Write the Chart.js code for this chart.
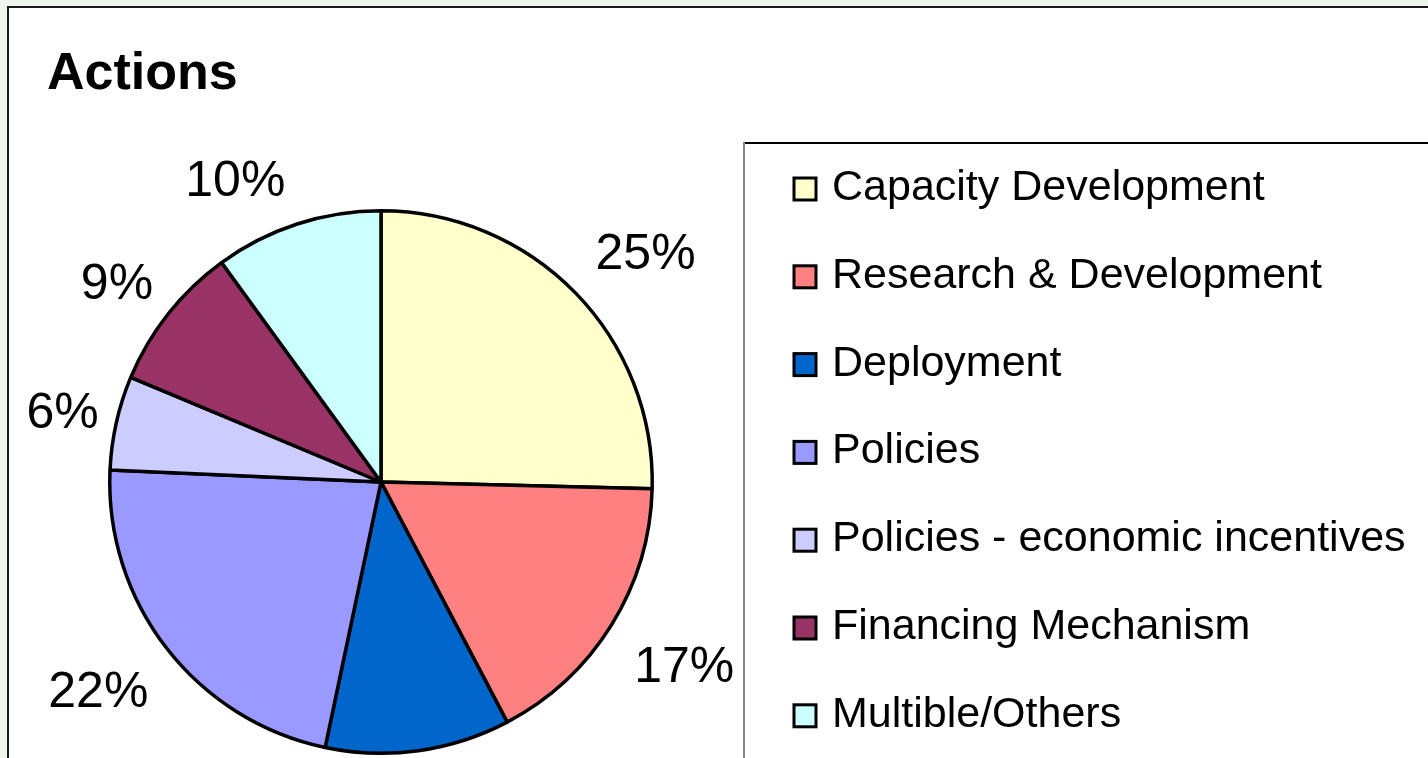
<!DOCTYPE html>
<html>
<head>
<meta charset="utf-8">
<script src="https://cdn.jsdelivr.net/npm/chart.js@4/dist/chart.umd.min.js"></script>
<style>
  html, body { margin: 0; padding: 0; }
  body { width: 1428px; height: 758px; overflow: hidden; background: #eff4ed; position: relative; }
  #frame { position: absolute; left: 7px; top: 6px; width: 1500px; height: 800px;
           background: #fff; border: 2px solid #1a1a1a; }
  #wrap { position: absolute; left: 0; top: 0; width: 1428px; height: 758px; }
</style>
</head>
<body>
<div id="frame"></div>
<div id="wrap"><canvas id="pie"></canvas></div>
<script>
const categories = ['Capacity Development', 'Research & Development', 'Deployment', 'Policies',
  'Policies - economic incentives', 'Financing Mechanism', 'Multible/Others'];
const shares = [25.4, 16.9, 11.0, 22.4, 5.6, 8.7, 10.0];
const sliceColors = ['#FFFFCC', '#FF8080', '#0066CC', '#9999FF', '#CCCCFF', '#993366', '#CCFFFF'];
const chartTitle = 'Actions';

const FONT = '"Liberation Sans", Arial, sans-serif';

const decorations = {
  id: 'decorations',
  afterDraw(chart) {
    const ctx = chart.ctx;
    const meta = chart.getDatasetMeta(0);
    const total = shares.reduce((a, b) => a + b, 0);
    // small hand nudges so the labels sit where the original best-fit put them
    const nudge = [[20, 10], [10, 2], [0, 0], [-11, -2], [6, 3], [-3, 8], [-45, 8]];
    ctx.save();

    // title
    ctx.fillStyle = '#000';
    ctx.font = 'bold 52px ' + FONT;
    ctx.textBaseline = 'alphabetic';
    ctx.textAlign = 'left';
    ctx.fillText(chartTitle, 47, 89);

    // legend box
    ctx.fillStyle = '#000';
    ctx.fillRect(744, 142, 700, 2);
    ctx.fillStyle = '#888';
    ctx.fillRect(743, 142, 2, 700);

    // legend entries
    ctx.font = '43px ' + FONT;
    categories.forEach((name, i) => {
      const base = 200 + i * 87.8;
      ctx.fillStyle = sliceColors[i];
      ctx.fillRect(794, base - 22, 22, 22);
      ctx.strokeStyle = '#000';
      ctx.lineWidth = 3;
      ctx.strokeRect(794, base - 22, 22, 22);
      ctx.fillStyle = '#000';
      ctx.fillText(name, 832, base);
    });

    // percentage labels outside the slices
    ctx.font = '50px ' + FONT;
    ctx.textAlign = 'center';
    ctx.textBaseline = 'middle';
    meta.data.forEach((arc, i) => {
      const mid = (arc.startAngle + arc.endAngle) / 2;
      const txt = Math.round(shares[i] / total * 100) + '%';
      const w = ctx.measureText(txt).width;
      const dx = Math.cos(mid), dy = Math.sin(mid);
      const dist = arc.outerRadius + 22 + (w / 2) * Math.abs(dx) + 18 * Math.abs(dy);
      ctx.fillText(txt, arc.x + dx * dist + nudge[i][0], arc.y + dy * dist + 2 + nudge[i][1]);
    });
    ctx.restore();
  }
};

new Chart(document.getElementById('pie'), {
  type: 'pie',
  data: {
    labels: categories,
    datasets: [{
      data: shares,
      backgroundColor: sliceColors,
      borderColor: '#000',
      borderWidth: 3.5
    }]
  },
  options: {
    responsive: true,
    maintainAspectRatio: false,
    animation: false,
    events: [],
    layout: { padding: { left: 108, top: 209, right: 774, bottom: 3 } },
    plugins: {
      legend: { display: false },
      tooltip: { enabled: false },
      title: { display: false }
    }
  },
  plugins: [decorations]
});
</script>
</body>
</html>
